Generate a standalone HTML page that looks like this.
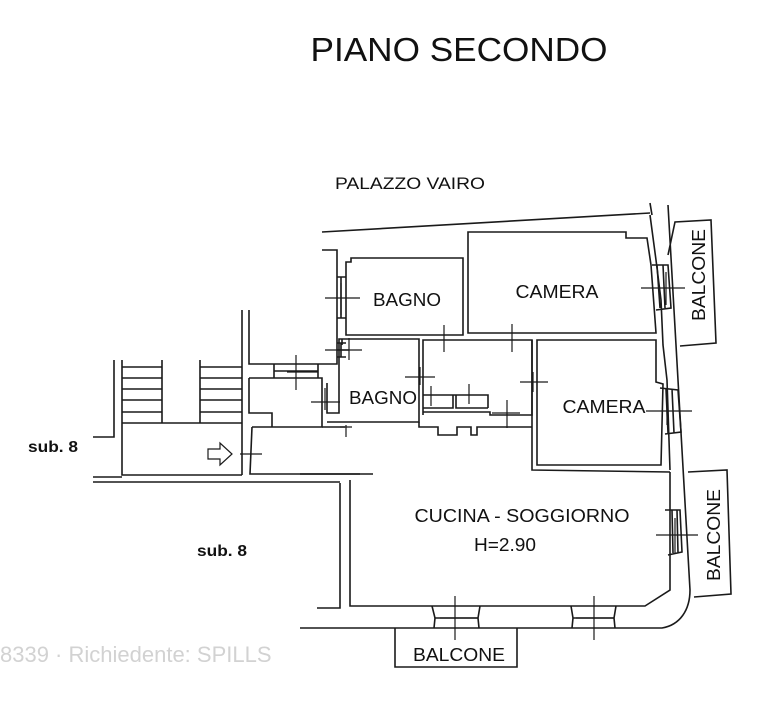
<!DOCTYPE html>
<html><head><meta charset="utf-8"><style>
html,body{margin:0;padding:0;background:#fff;}
svg{display:block;}
text{font-family:"Liberation Sans",Arial,sans-serif;fill:#111;}
</style></head><body>
<svg width="777" height="702" viewBox="0 0 777 702" xmlns="http://www.w3.org/2000/svg">
<g fill="none" stroke="#1a1a1a" stroke-width="1.6">
<path d="M322,232 L650,213"/>
<path d="M650,203 L652,215"/>
<path d="M668,205 L690,590 C690,610 680,625 662,628 L300,628"/>
<path d="M650,215 L656,260 L661,300 L663,345 L667,380 L670,470"/>
<path d="M668,255 L675,222 L711,220 L716,343 L680,346"/>
<path d="M688,472 L727,470 L731,594 L694,597"/>
<path d="M468,333 V232 H626 V238 H647 L651,265 L656,333 Z"/>
<path d="M346,335 V262 H351 V258 H463 V335 Z"/>
<path d="M322,250 H337 V364 H249 V310"/>
<path d="M242,310 V475"/>
<path d="M249,378 H322 V427 H252"/>
<path d="M249,378 V413 H272 V427"/>
<path d="M252,427 L250,474 H360"/>
<path d="M274,364 V378 M318,364 V378 M274,371 H318"/>
<path d="M327,383 V413 H339 V339 H419 V422 H327"/>
<path d="M322,427 H345 M342,345 V339"/>
<path d="M423,415 V340 H532 V415 H490 V412 H423"/>
<path d="M423,395 H488 V408 M423,408 H453 V395 M456,395 V408 H488"/>
<path d="M419,422 V427 H438 V435 H457 V427 H471 V435 H477 V427 H532"/>
<path d="M537,465 V340 H656 V382 L663,384 L661,465 Z"/>
<path d="M532,340 V470 L670,472"/>
<path d="M300,474 H373"/>
<path d="M340,483 V608 H317"/>
<path d="M350,480 V606 H645 L670,590 V472"/>
<path d="M432,606 L435,618 L434,628 M480,606 L478,618 L479,628 M435,618 H478"/>
<path d="M571,606 L573,618 L572,628 M616,606 L614,618 L615,628 M573,618 H614"/>
<path d="M395,628 V667 H517 V628"/>
<path d="M665,510 L680,510 L682,552 L668,555 M672,510 L673,553 M677,510 L678,553"/>
<path d="M660,388 L678,390 L681,432 L665,434 M666,389 L668,433 M672,389 L674,433"/>
<path d="M652,265 L668,265 L671,308 L656,310 M657,265 L660,308 M663,265 L665,308"/>
<path d="M337,277 H346 M337,318 H346 M341,277 V318"/>
<path d="M337,343 H346 M337,357 H346 M341,343 V357 M337,350 H349"/>
<path d="M114,360 V437 H93"/>
<path d="M122,360 V475 H242 M122,423 H242"/>
<path d="M162,360 V423 M200,360 V423 M122,367 H162 M122,378 H162 M122,389 H162 M122,400 H162 M122,412 H162 M200,367 H242 M200,378 H242 M200,389 H242 M200,400 H242 M200,412 H242"/>
<path d="M93,482 H340 M93,477 H122"/>
<path d="M208,449 H220 V443 L232,454 L220,465 V459 H208 Z" stroke-width="1.2"/>
</g>
<g stroke="#1a1a1a" stroke-width="1.2">
<path d="M325,298 H360 M341,283 V315"/>
<path d="M325,350 H362 M349,338 V360"/>
<path d="M287,372 H318 M296,355 V390"/>
<path d="M311,402 H340 M325,388 V410"/>
<path d="M346,425 V437 M340,427 H352"/>
<path d="M405,377 H435 M420,367 V385"/>
<path d="M444,325 V352 M512,324 V352"/>
<path d="M431,386 V406 M469,384 V404"/>
<path d="M492,413 H520 M507,400 V428"/>
<path d="M520,382 H548 M533,372 V392"/>
<path d="M641,288 H685 M666,272 V305"/>
<path d="M646,411 H692 M667,395 V425"/>
<path d="M656,535 H698 M675,518 V553"/>
<path d="M455,596 V640 M594,596 V640"/>
<path d="M440,618 H478 M576,618 H614"/>
<path d="M240,454 H262"/>
</g>
<text x="459" y="61" font-size="33" text-anchor="middle" textLength="297" lengthAdjust="spacingAndGlyphs">PIANO SECONDO</text>
<text x="410" y="189" font-size="17" text-anchor="middle" textLength="150" lengthAdjust="spacingAndGlyphs">PALAZZO VAIRO</text>
<text x="407" y="306" font-size="18" text-anchor="middle" textLength="68" lengthAdjust="spacingAndGlyphs">BAGNO</text>
<text x="557" y="298" font-size="18" text-anchor="middle" textLength="83" lengthAdjust="spacingAndGlyphs">CAMERA</text>
<text x="383" y="404" font-size="18" text-anchor="middle" textLength="68" lengthAdjust="spacingAndGlyphs">BAGNO</text>
<text x="604" y="413" font-size="18" text-anchor="middle" textLength="83" lengthAdjust="spacingAndGlyphs">CAMERA</text>
<text x="522" y="522" font-size="18" text-anchor="middle" textLength="215" lengthAdjust="spacingAndGlyphs">CUCINA - SOGGIORNO</text>
<text x="505" y="551" font-size="18" text-anchor="middle" textLength="62" lengthAdjust="spacingAndGlyphs">H=2.90</text>
<text x="459" y="661" font-size="18" text-anchor="middle" textLength="92" lengthAdjust="spacingAndGlyphs">BALCONE</text>
<text transform="translate(705,275) rotate(-90)" font-size="18" text-anchor="middle" textLength="92" lengthAdjust="spacingAndGlyphs">BALCONE</text>
<text transform="translate(720,535) rotate(-90)" font-size="18" text-anchor="middle" textLength="92" lengthAdjust="spacingAndGlyphs">BALCONE</text>
<text x="53" y="452" font-size="16" text-anchor="middle" font-weight="bold" textLength="50" lengthAdjust="spacingAndGlyphs">sub. 8</text>
<text x="222" y="556" font-size="16" text-anchor="middle" font-weight="bold" textLength="50" lengthAdjust="spacingAndGlyphs">sub. 8</text>
<text x="0" y="662" font-size="22" style="fill:#d2d2d2">8339 · Richiedente: SPILLS</text>
</svg>
</body></html>
